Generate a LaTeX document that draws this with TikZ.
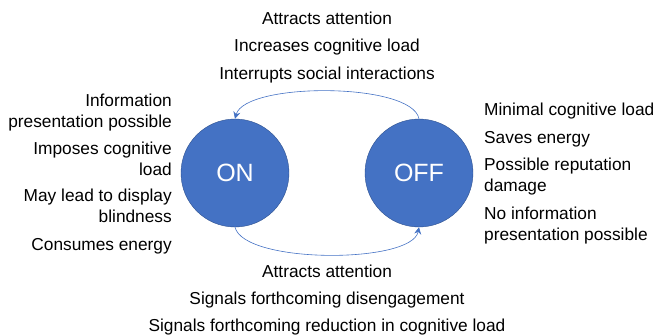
\documentclass[tikz,border=0pt]{standalone}
\usepackage{fontspec}
\setmainfont{Liberation Sans}
\usetikzlibrary{arrows.meta}
\definecolor{stateblue}{HTML}{4472C4}
\definecolor{stateedge}{HTML}{2F528F}

\begin{document}
\begin{tikzpicture}[x=1pt, y=-1pt,
      state/.style={draw=stateedge, fill=stateblue, circle, minimum size=108pt, inner sep=0pt,
        text=white, font=\fontsize{25}{30}\selectfont},
      note/.style={inner sep=0pt, font=\fontsize{17.3}{21}\selectfont},
      arrow/.style={-{Stealth[length=7pt, width=7pt]}, stateblue, semithick}
    ]
      \useasboundingbox (0,0) rectangle (658,335);
      \node[state] (on) at (235,173) {ON};
      \node[state] (off) at (419,173) {OFF};

      \draw[arrow] (off.north) .. controls (412,82) and (245,82) .. (on.north);
      \draw[arrow] (on.south) .. controls (244,264) and (412,264) .. (off.south);

      % switching off -> on
      \node[note, anchor=base] (t1) at (327,24) {Attracts attention};
      \node[note, anchor=base] (t2) at (327,51) {Increases cognitive load};
      \node[note, anchor=base] (t3) at (327,79) {Interrupts social interactions};

      % state on (base = last line)
      \node[note, anchor=base east, align=right] (l1) at (172,127) {Information\\presentation possible};
      \node[note, anchor=base east, align=right] (l2) at (172,175) {Imposes cognitive\\load};
      \node[note, anchor=base east, align=right] (l3) at (172,222) {May lead to display\\blindness};
      \node[note, anchor=base east] (l4) at (172,250) {Consumes energy};

      % state off
      \node[note, anchor=base west] (r1) at (484,115) {Minimal cognitive load};
      \node[note, anchor=base west] (r2) at (484,143) {Saves energy};
      \node[note, anchor=base west, align=left] (r3) at (484,191) {Possible reputation\\damage};
      \node[note, anchor=base west, align=left] (r4) at (484,240) {No information\\presentation possible};

      % switching on -> off
      \node[note, anchor=base] (b1) at (327,277) {Attracts attention};
      \node[note, anchor=base] (b2) at (327,304) {Signals forthcoming disengagement};
      \node[note, anchor=base] (b3) at (327,331) {Signals forthcoming reduction in cognitive load};
    \end{tikzpicture}
\end{document}
